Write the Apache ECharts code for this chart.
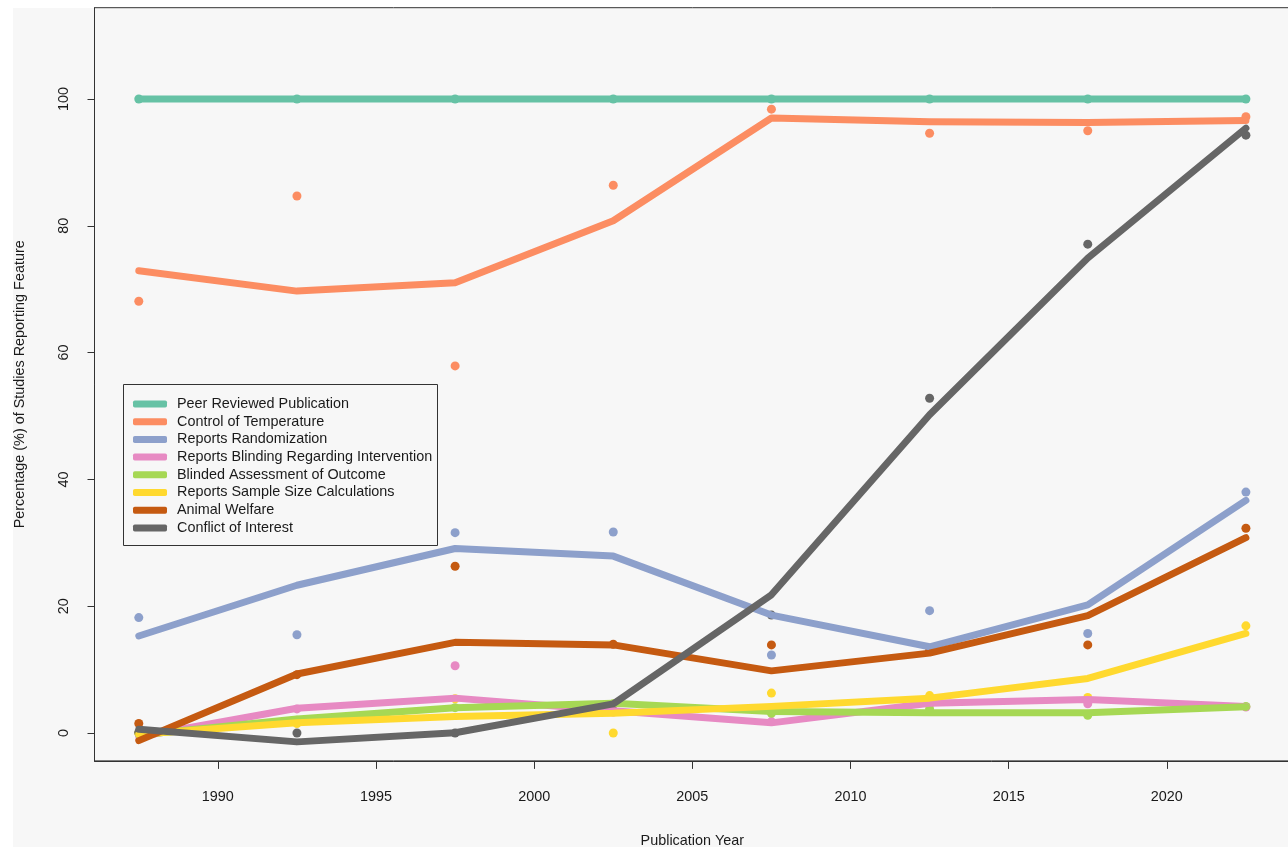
<!DOCTYPE html>
<html>
<head>
<meta charset="utf-8">
<script src="https://cdn.jsdelivr.net/npm/echarts@6/dist/echarts.min.js"></script>
<style>
  html, body { margin: 0; padding: 0; background: #ffffff; overflow: hidden; }
  #chart { width: 1300px; height: 847px; }
</style>
</head>
<body>
<div id="chart"></div>
<script>
// Five-year bins (midpoints) of publication year
const years = [1987.5, 1992.5, 1997.5, 2002.5, 2007.5, 2012.5, 2017.5, 2022.5];

const featureNames = [
  'Peer Reviewed Publication',
  'Control of Temperature',
  'Reports Randomization',
  'Reports Blinding Regarding Intervention',
  'Blinded Assessment of Outcome',
  'Reports Sample Size Calculations',
  'Animal Welfare',
  'Conflict of Interest'
];

const featureColors = ['#66C2A5', '#FC8D62', '#8DA0CB', '#E78AC3', '#A6D854', '#FFD92F', '#C55A11', '#666666'];

// Observed percentages per bin
const peerObs     = [100, 100, 100, 100, 100, 100, 100, 100];
const tempObs     = [68.1, 84.7, 57.9, 86.4, 98.4, 94.6, 95.0, 97.2];
const randObs     = [18.2, 15.5, 31.6, 31.7, 12.3, 19.3, 15.7, 38.0];
const blindIntObs = [0, 3.8, 10.6, 3.3, 1.8, 4.5, 4.6, 4.1];
const blindOutObs = [0, 2.0, 4.0, 4.6, 3.1, 3.8, 2.8, 4.2];
const sampleObs   = [0, 1.5, 5.4, 0, 6.3, 5.9, 5.6, 16.9];
const welfareObs  = [1.5, 9.2, 26.3, 14.0, 13.9, 13.0, 13.9, 32.3];
const coiObs      = [0.1, 0, 0, 4.5, 18.6, 52.8, 77.1, 94.3];

// Fitted trend per bin
const peerFit     = [100, 100, 100, 100, 100, 100, 100, 100];
const tempFit     = [72.9, 69.7, 71.0, 80.8, 97.0, 96.4, 96.3, 96.6];
const randFit     = [15.3, 23.3, 29.1, 27.9, 18.6, 13.6, 20.2, 36.7];
const blindIntFit = [-0.6, 3.9, 5.5, 3.5, 1.6, 4.7, 5.3, 4.2];
const blindOutFit = [-0.3, 2.2, 4.0, 4.7, 3.4, 3.2, 3.2, 4.15];
const sampleFit   = [-0.2, 1.6, 2.6, 3.1, 4.2, 5.5, 8.6, 15.7];
const welfareFit  = [-1.2, 9.3, 14.3, 13.9, 9.8, 12.6, 18.5, 30.8];
const coiFit      = [0.6, -1.4, 0.05, 4.6, 21.8, 50.2, 74.9, 95.4];

// Axis ticks
const xTicks = [1990, 1995, 2000, 2005, 2010, 2015, 2020];
const yTicks = [0, 20, 40, 60, 80, 100];

const observed = [peerObs, tempObs, randObs, blindIntObs, blindOutObs, sampleObs, welfareObs, coiObs];
const fitted = [peerFit, tempFit, randFit, blindIntFit, blindOutFit, sampleFit, welfareFit, coiFit];

const pairs = arr => arr.map((v, i) => [years[i], v]);

const series = [];
featureNames.forEach((name, i) => {
  series.push({
    name: name,
    type: 'line',
    data: pairs(fitted[i]),
    color: featureColors[i],
    showSymbol: false,
    lineStyle: { width: 7, color: featureColors[i], cap: 'round', join: 'round' },
    emphasis: { disabled: true },
    silent: true
  });
  series.push({
    name: name,
    type: 'scatter',
    data: pairs(observed[i]),
    color: featureColors[i],
    symbol: 'circle',
    symbolSize: 9,
    itemStyle: { color: featureColors[i], opacity: 1 },
    emphasis: { disabled: true },
    silent: true
  });
});

const textColor = '#1a1a1a';
const fontFamily = '"Liberation Sans", Arial, sans-serif';
const fontSize = 14.4;

const chart = echarts.init(document.getElementById('chart'), null, { renderer: 'canvas' });
chart.setOption({
  animation: false,
  backgroundColor: '#ffffff',
  graphic: [
    { type: 'rect', z: -10, silent: true,
      shape: { x: 13, y: 8, width: 1300, height: 900 },
      style: { fill: '#f7f7f7' } },
    { type: 'rect', z: 1, silent: true,
      shape: { x: 123.5, y: 384.5, width: 314, height: 161 },
      style: { fill: '#f7f7f7', stroke: '#333333', lineWidth: 1 } }
  ],
  grid: {
    left: 94.5, top: 7.7, width: 1195.7, height: 753.2,
    outerBoundsMode: 'none',
    containLabel: false,
    show: true, borderColor: '#333333', borderWidth: 1, backgroundColor: 'transparent'
  },
  legend: {
    orient: 'vertical',
    left: 133, top: 397,
    padding: 0,
    z: 5,
    itemWidth: 34, itemHeight: 7, itemGap: 3.7,
    icon: 'roundRect',
    selectedMode: false,
    data: featureNames,
    textStyle: { fontFamily: fontFamily, fontSize: fontSize, color: textColor, lineHeight: 14, padding: [0, 0, 0, 5] }
  },
  xAxis: {
    type: 'value',
    min: 1986.1, max: 2023.9,
    name: 'Publication Year',
    nameLocation: 'middle',
    nameGap: 73,
    nameTextStyle: { fontFamily: fontFamily, fontSize: fontSize, color: textColor },
    axisLine: { show: true, onZero: false, lineStyle: { color: '#333333', width: 1 } },
    axisTick: { show: true, inside: false, length: 8, customValues: xTicks, lineStyle: { color: '#333333' } },
    axisLabel: { customValues: xTicks, margin: 29, fontFamily: fontFamily, fontSize: fontSize, color: textColor,
                 formatter: v => String(v) },
    splitLine: { show: false }
  },
  yAxis: {
    type: 'value',
    min: -4.4, max: 114.4,
    name: 'Percentage (%) of Studies Reporting Feature',
    nameLocation: 'middle',
    nameGap: 67,
    nameRotate: 90,
    nameTextStyle: { fontFamily: fontFamily, fontSize: fontSize, color: textColor },
    axisLine: { show: true, onZero: false, lineStyle: { color: '#333333', width: 1 } },
    axisTick: { show: true, inside: false, length: 7, customValues: yTicks, lineStyle: { color: '#333333' } },
    axisLabel: { customValues: yTicks, rotate: 90, margin: 23, fontFamily: fontFamily, fontSize: fontSize, color: textColor,
                 formatter: v => String(v) },
    splitLine: { show: false }
  },
  series: series
});
</script>
</body>
</html>
